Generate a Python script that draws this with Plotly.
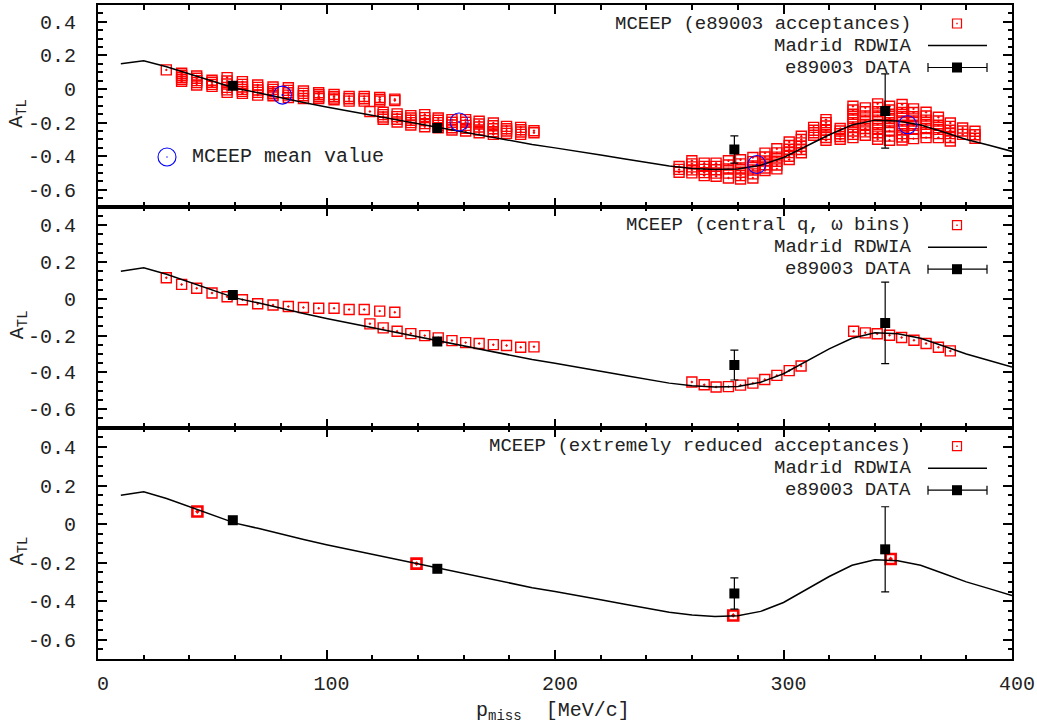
import plotly.graph_objects as go

# ---------------- data ----------------
# Madrid RDWIA curve (p_miss in MeV/c, A_TL)
curve_p = [10, 20, 30, 40, 50, 60, 70, 80, 90, 100, 110, 120, 130, 140, 150, 160, 170, 180, 190, 200,
           210, 220, 230, 240, 250, 260, 270, 280, 290, 300, 310, 320, 330, 340, 350, 360, 370, 380, 390, 400]
curve_a = [0.150, 0.168, 0.133, 0.090, 0.048, 0.005, -0.022, -0.052, -0.080, -0.107, -0.132, -0.157, -0.181,
           -0.205, -0.230, -0.256, -0.282, -0.308, -0.330, -0.350, -0.370, -0.393, -0.415, -0.437, -0.458,
           -0.472, -0.479, -0.476, -0.453, -0.407, -0.340, -0.272, -0.214, -0.185, -0.190, -0.214, -0.256,
           -0.300, -0.335, -0.371]

# e89003 data
data_p = [59.0, 148.5, 278.5, 344.5]
data_a = [0.020, -0.232, -0.360, -0.131]
data_err = [0.012, 0.012, 0.081, 0.221]

# MCEEP with e89003 acceptances: columns of values at each p_miss bin
acc_p = [29.9, 36.6, 43.2, 49.9, 56.5, 63.2, 69.9, 76.6, 83.3, 89.9, 96.6, 103.3, 109.9, 116.5, 123.3, 129.9,
         119.0, 124.8, 130.9, 136.9, 143.0, 148.9, 154.9, 160.9, 166.8, 173.0, 178.8, 185.0, 190.8,
         254.3, 259.9, 265.3, 270.5, 275.9, 281.2, 286.6, 291.9, 297.1, 302.5, 307.8, 313.2, 318.6, 324.8,
         330.4, 335.8, 341.2, 346.4, 351.9, 356.9, 362.4, 367.8, 373.0, 378.4, 383.8]
acc_vals = [
    [0.114],
    [0.094, 0.082, 0.070, 0.058, 0.046],
    [0.078, 0.064, 0.050, 0.038, 0.024],
    [0.052, 0.040, 0.028, 0.016],
    [0.068, 0.048, 0.030, 0.010, -0.005, -0.020],
    [0.044, 0.028, 0.012, -0.002, -0.014, -0.026],
    [0.024, 0.010, -0.006, -0.020, -0.036],
    [0.012, -0.002, -0.016, -0.028, -0.040],
    [0.008, -0.008, -0.022, -0.036, -0.050],
    [-0.012, -0.026, -0.040, -0.056],
    [-0.022, -0.034, -0.046, -0.056],
    [-0.032, -0.044, -0.054, -0.064],
    [-0.044, -0.058, -0.072],
    [-0.044, -0.058, -0.072],
    [-0.050, -0.062, -0.072],
    [-0.060, -0.068],
    [-0.134],
    [-0.138, -0.152, -0.166, -0.180],
    [-0.148, -0.164, -0.180, -0.196],
    [-0.158, -0.172, -0.186, -0.200, -0.214],
    [-0.152, -0.170, -0.188, -0.206, -0.224],
    [-0.172, -0.186, -0.200, -0.216, -0.230],
    [-0.182, -0.198, -0.214, -0.230, -0.244],
    [-0.182, -0.198, -0.216, -0.234, -0.250],
    [-0.192, -0.208, -0.226, -0.244, -0.260],
    [-0.202, -0.218, -0.236, -0.254, -0.270],
    [-0.222, -0.236, -0.250, -0.264],
    [-0.228, -0.242, -0.256, -0.270],
    [-0.248, -0.260],
    [-0.461, -0.478, -0.495],
    [-0.427, -0.445, -0.463, -0.481, -0.499],
    [-0.441, -0.460, -0.478, -0.497, -0.515],
    [-0.441, -0.460, -0.480, -0.500, -0.519],
    [-0.427, -0.452, -0.476, -0.500, -0.529],
    [-0.421, -0.445, -0.470, -0.495, -0.515, -0.535],
    [-0.407, -0.432, -0.458, -0.482, -0.505, -0.529],
    [-0.381, -0.404, -0.428, -0.450, -0.470, -0.485],
    [-0.355, -0.380, -0.405, -0.430, -0.452, -0.475],
    [-0.315, -0.336, -0.358, -0.378, -0.400, -0.419],
    [-0.281, -0.300, -0.320, -0.340, -0.360, -0.379],
    [-0.228, -0.245, -0.260, -0.275],
    [-0.182, -0.200, -0.220, -0.245, -0.270, -0.288, -0.305],
    [-0.235, -0.250, -0.266, -0.282, -0.299],
    [-0.102, -0.125, -0.150, -0.175, -0.200, -0.225, -0.250, -0.270, -0.289],
    [-0.112, -0.135, -0.160, -0.185, -0.210, -0.235, -0.255, -0.275],
    [-0.088, -0.110, -0.135, -0.160, -0.185, -0.210, -0.235, -0.260, -0.280, -0.299],
    [-0.102, -0.125, -0.150, -0.175, -0.200, -0.225, -0.250, -0.280, -0.305],
    [-0.092, -0.115, -0.140, -0.165, -0.190, -0.215, -0.240, -0.265, -0.285, -0.303],
    [-0.118, -0.140, -0.165, -0.190, -0.215, -0.240, -0.265, -0.295],
    [-0.138, -0.160, -0.185, -0.210, -0.235, -0.260, -0.289],
    [-0.168, -0.190, -0.215, -0.240, -0.265, -0.289],
    [-0.202, -0.222, -0.245, -0.265, -0.288, -0.309],
    [-0.232, -0.250, -0.270],
    [-0.251, -0.272, -0.293],
]

# MCEEP mean values
mean_p = [80.7, 158.0, 288.3, 354.3]
mean_a = [-0.036, -0.196, -0.449, -0.212]

# MCEEP central q, omega bins
cen_p = [29.9, 36.6, 43.2, 49.9, 56.5, 63.2, 69.9, 76.6, 83.3, 89.9, 96.6, 103.3, 109.9, 116.5, 123.3, 129.9,
         119.0, 124.8, 130.9, 136.9, 143.0, 148.9, 154.9, 160.9, 166.8, 173.0, 178.8, 185.0, 190.8,
         259.9, 265.3, 270.5, 275.9, 281.2, 286.6, 291.8, 297.1, 302.5, 307.7,
         330.7, 335.8, 341.0, 346.4, 351.7, 357.1, 362.4, 367.8, 373.0]
cen_a = [0.114, 0.078, 0.057, 0.031, 0.011, -0.005, -0.027, -0.034, -0.042, -0.047, -0.051, -0.051, -0.058,
         -0.058, -0.067, -0.073,
         -0.136, -0.158, -0.176, -0.189, -0.200, -0.212, -0.227, -0.238, -0.243, -0.249, -0.254, -0.263, -0.261,
         -0.452, -0.467, -0.479, -0.477, -0.469, -0.458, -0.438, -0.416, -0.390, -0.365,
         -0.176, -0.185, -0.190, -0.198, -0.210, -0.225, -0.243, -0.263, -0.283]

# MCEEP extremely reduced acceptances
red_p = [43.5, 139.4, 278.0, 346.9]
red_a = [0.065, -0.205, -0.474, -0.181]

y_tickvals = [0.4, 0.2, 0, -0.2, -0.4, -0.6]
y_ticktext = ["0.4", "0.2", "0", "-0.2", "-0.4", "-0.6"]
x_tickvals = [0, 100, 200, 300, 400]
x_ticktext = ["0", "100", "200", "300", "400"]

legend_titles = ["MCEEP (e89003 acceptances)", "MCEEP (central q, \u03c9 bins)",
                 "MCEEP (extremely reduced acceptances)"]

# ---------------- layout geometry (pixels) ----------------
W, H = 1037, 726
L, R, T, B = 98, 1012, 5, 659
panel_edges = [5, 206.7, 427.7, 659]
FONT = "Liberation Mono, Courier New, monospace"
TXT = "#222222"


def fx(px):
    return (px - L) / (R - L)


def fy(py):
    return (B - py) / (B - T)


fig = go.Figure()

acc_x, acc_y = [], []
for p, vals in zip(acc_p, acc_vals):
    for v in vals:
        acc_x.append(p)
        acc_y.append(v)

red_marker = dict(symbol="square-open-dot", size=10, color="red", line=dict(width=1.4, color="red"))

axes = [("x", "y"), ("x2", "y2"), ("x3", "y3")]
mc_sets = [(acc_x, acc_y, red_marker),
           (cen_p, cen_a, red_marker),
           (red_p, red_a, dict(symbol="square-open-dot", size=10, color="red", line=dict(width=2.6, color="red")))]

for i, (xa, ya) in enumerate(axes):
    mx, my, mk = mc_sets[i]
    fig.add_trace(go.Scatter(x=mx, y=my, mode="markers", marker=mk, xaxis=xa, yaxis=ya,
                             showlegend=False, hoverinfo="skip"))
    fig.add_trace(go.Scatter(x=curve_p, y=curve_a, mode="lines", line=dict(color="black", width=1.5),
                             xaxis=xa, yaxis=ya, showlegend=False, hoverinfo="skip"))
    fig.add_trace(go.Scatter(x=data_p, y=data_a, mode="markers",
                             marker=dict(symbol="square", size=10, color="black"),
                             error_y=dict(type="data", array=data_err, visible=True, color="black",
                                          thickness=1.2, width=4),
                             xaxis=xa, yaxis=ya, showlegend=False, hoverinfo="skip"))
    if i == 0:
        fig.add_trace(go.Scatter(x=mean_p, y=mean_a, mode="markers",
                                 marker=dict(symbol="circle-open-dot", size=18, color="blue",
                                             line=dict(width=1.1, color="blue")),
                                 xaxis=xa, yaxis=ya, showlegend=False, hoverinfo="skip"))

shapes = []
annotations = []
for i in range(3):
    top = panel_edges[i]
    bot = panel_edges[i + 1]
    ys = [top + 18.5, top + 40.5, top + 62.5]
    texts = [legend_titles[i], "Madrid RDWIA", "e89003 DATA"]
    for t, yy in zip(texts, ys):
        annotations.append(dict(text=t, x=fx(912), y=fy(yy), xref="paper", yref="paper",
                                xanchor="right", yanchor="middle", showarrow=False,
                                borderpad=0, valign="middle",
                                font=dict(family=FONT, size=19, color=TXT)))
    kx = 957
    # red square key
    shapes.append(dict(type="rect", xref="paper", yref="paper", x0=fx(kx - 4.5), x1=fx(kx + 4.5),
                       y0=fy(ys[0] + 4.5), y1=fy(ys[0] - 4.5), line=dict(color="red", width=1.2)))
    shapes.append(dict(type="rect", xref="paper", yref="paper", x0=fx(kx - 0.7), x1=fx(kx + 0.7),
                       y0=fy(ys[0] + 0.7), y1=fy(ys[0] - 0.7), line=dict(width=0), fillcolor="red"))
    # curve key
    shapes.append(dict(type="line", xref="paper", yref="paper", x0=fx(928), x1=fx(987),
                       y0=fy(ys[1]), y1=fy(ys[1]), line=dict(color="black", width=1.5)))
    # data key
    shapes.append(dict(type="line", xref="paper", yref="paper", x0=fx(928), x1=fx(987),
                       y0=fy(ys[2]), y1=fy(ys[2]), line=dict(color="black", width=1.2)))
    for cx in (928, 987):
        shapes.append(dict(type="line", xref="paper", yref="paper", x0=fx(cx), x1=fx(cx),
                           y0=fy(ys[2] - 4.5), y1=fy(ys[2] + 4.5), line=dict(color="black", width=1.2)))
    shapes.append(dict(type="rect", xref="paper", yref="paper", x0=fx(kx - 5), x1=fx(kx + 5),
                       y0=fy(ys[2] + 5), y1=fy(ys[2] - 5), line=dict(width=0), fillcolor="black"))
    # y axis title
    annotations.append(dict(text="A<sub>TL</sub>", x=fx(18), y=fy((top + bot) / 2 + 8), xref="paper",
                            yref="paper", xanchor="center", yanchor="middle", textangle=-90,
                            showarrow=False, font=dict(family=FONT, size=20, color=TXT)))

# MCEEP mean value key in panel 1
shapes.append(dict(type="circle", xref="paper", yref="paper", x0=fx(158), x1=fx(176),
                   y0=fy(166), y1=fy(148), line=dict(color="blue", width=1.1)))
shapes.append(dict(type="circle", xref="paper", yref="paper", x0=fx(166.3), x1=fx(167.7),
                   y0=fy(157.7), y1=fy(156.3), line=dict(width=0), fillcolor="blue"))
annotations.append(dict(text="MCEEP mean value", x=fx(190), y=fy(157), xref="paper", yref="paper",
                        xanchor="left", yanchor="middle", showarrow=False,
                        font=dict(family=FONT, size=20, color=TXT)))
# x axis title
annotations.append(dict(text="p<sub>miss</sub>  [MeV/c]", x=fx(553), y=fy(711), xref="paper",
                        yref="paper", xanchor="center", yanchor="middle", showarrow=False,
                        font=dict(family=FONT, size=20, color=TXT)))

axis_common = dict(showline=True, linecolor="black", linewidth=2, mirror="allticks", ticks="inside",
                   tickcolor="black", tickwidth=1.5, showgrid=False, zeroline=False, automargin=False,
                   tickfont=dict(family=FONT, size=20, color=TXT))

layout = dict(width=W, height=H, margin=dict(l=L, r=W - R, t=T, b=H - B, autoexpand=False),
              template="none", plot_bgcolor="white", paper_bgcolor="white", showlegend=False,
              shapes=shapes, annotations=annotations)

for i in range(3):
    top = panel_edges[i]
    bot = panel_edges[i + 1]
    sfx = "" if i == 0 else str(i + 1)
    layout["xaxis" + sfx] = dict(axis_common, domain=[0, 1], range=[0, 400], anchor="y" + sfx,
                                 tickvals=x_tickvals, ticktext=x_ticktext, ticklen=9,
                                 minor=dict(dtick=20, ticklen=4.5, ticks="inside", tickcolor="black",
                                            tickwidth=1.5),
                                 showticklabels=(i == 2), ticklabelstandoff=5, ticklabelshift=5)
    layout["yaxis" + sfx] = dict(axis_common, domain=[fy(bot), fy(top)], range=[-0.7, 0.5],
                                 anchor="x" + sfx, tickvals=y_tickvals, ticktext=y_ticktext, ticklen=9,
                                 minor=dict(dtick=0.05, tick0=0, ticklen=4.5, ticks="inside",
                                            tickcolor="black", tickwidth=1.5),
                                 ticklabelstandoff=16)

fig.update_layout(**layout)
fig.write_html("out.html", config={"displayModeBar": False},
               post_script="document.body.style.margin='0px';document.body.style.padding='0px';")
